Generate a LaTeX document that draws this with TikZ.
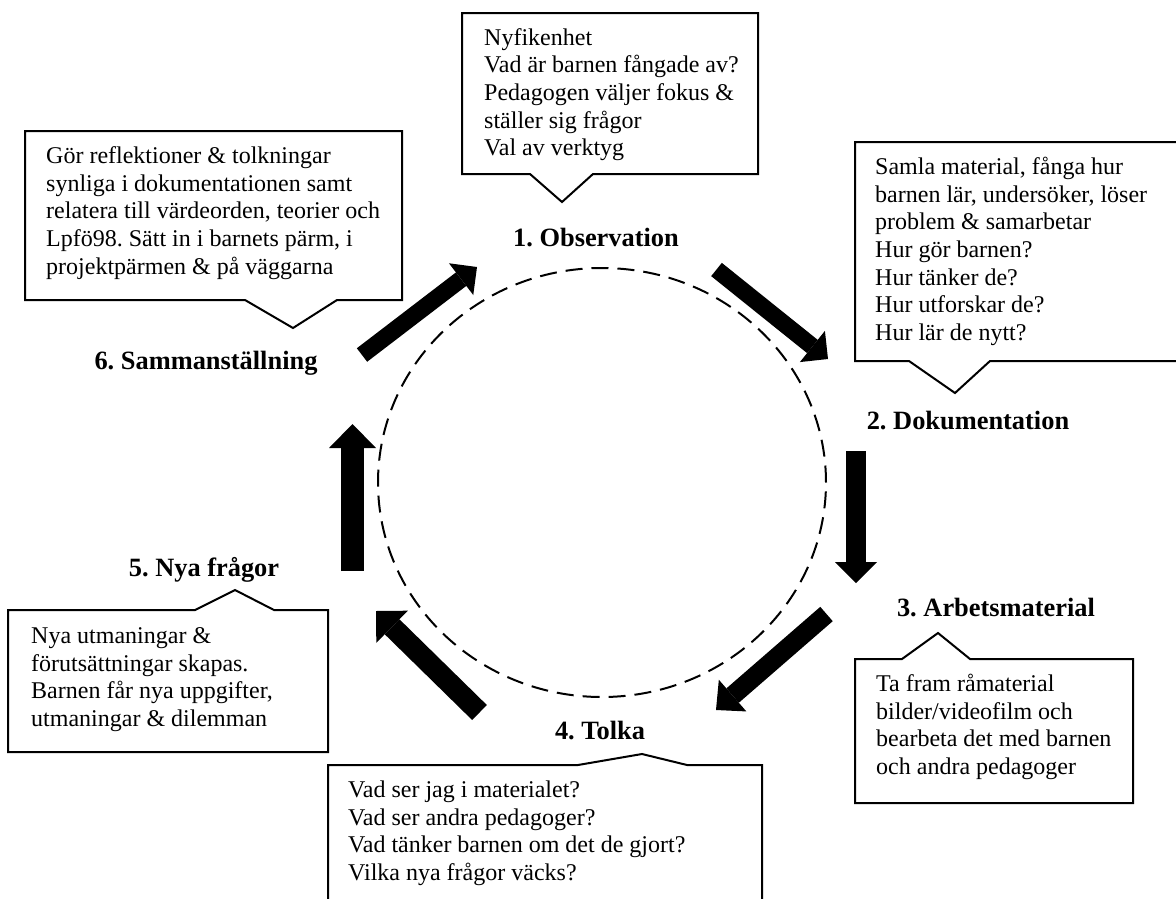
\documentclass[tikz,border=0pt]{standalone}
\usepackage{fontspec}
\setmainfont{Liberation Serif}
\usetikzlibrary{arrows.meta}
\frenchspacing
\tikzset{
  bodytext/.style={anchor=north west, inner sep=0pt, align=left, font=\fontsize{24}{27.6}\selectfont\frenchspacing},
  heading/.style={anchor=base, inner sep=0pt, font=\fontsize{26.4}{30}\selectfont\bfseries\frenchspacing},
  callout/.style={draw, line width=2pt, line join=miter, fill=white},
  cycle line/.style={line width=2pt, dash pattern=on 17pt off 9pt},
  blockarrow/.style n args={3}{line width=#1, -{Triangle[width=#2, length=#3, line width=0pt]}},
}
\begin{document}
\begin{tikzpicture}[x=1pt,y=-1pt]
\useasboundingbox (0,0) rectangle (1176,898);
\clip (0,0) rectangle (1176,898);
% dashed cycle
\coordinate (c) at (602,482.5);
\draw[cycle line] (c) ellipse [x radius=224pt, y radius=214.5pt];

% headings
\node[heading] (h1) at (596,246) {1. Observation};
\node[heading] (h2) at (968,429) {2. Dokumentation};
\node[heading] (h3) at (996,616) {3. Arbetsmaterial};
\node[heading] (h4) at (600,739) {4. Tolka};
\node[heading] (h5) at (204,576) {5. Nya frågor};
\node[heading] (h6) at (206,369) {6. Sammanställning};

% arrow end points
\coordinate (a61s) at (362,355);  \coordinate (a61e) at (477,267);
\coordinate (a12s) at (716.5,269.5); \coordinate (a12e) at (828,359);
\coordinate (a23s) at (856,451);  \coordinate (a23e) at (856,583);
\coordinate (a34s) at (826.5,614); \coordinate (a34e) at (716,710);
\coordinate (a45s) at (479.5,712.5); \coordinate (a45e) at (376,611);
\coordinate (a56s) at (352.5,571); \coordinate (a56e) at (352.5,424);

\draw[blockarrow={17pt}{40pt}{20pt}] (a61s) -- (a61e);
\draw[blockarrow={17pt}{40pt}{20pt}] (a12s) -- (a12e);
\draw[blockarrow={20pt}{42pt}{21pt}] (a23s) -- (a23e);
\draw[blockarrow={19pt}{42pt}{22pt}] (a34s) -- (a34e);
\draw[blockarrow={21pt}{45pt}{22.5pt}] (a45s) -- (a45e);
\draw[blockarrow={23pt}{47pt}{24pt}] (a56s) -- (a56e);

% callouts
\draw[callout] (462,13) -- (758,13) -- (758,174) -- (593,174) -- (562,202) -- (530,174) -- (462,174) -- cycle;
\draw[callout] (25,131) -- (402,131) -- (402,300) -- (337,300) -- (293,328) -- (245,300) -- (25,300) -- cycle;
\draw[callout] (855,142) -- (1185,142) -- (1185,361) -- (990,361) -- (955,393) -- (909,361) -- (855,361) -- cycle;
\draw[callout] (855,659) -- (902,659) -- (938,633) -- (970,659) -- (1133,659) -- (1133,803) -- (855,803) -- cycle;
\draw[callout] (328,765) -- (578,765) -- (642,754) -- (687,765) -- (762,765) -- (762,920) -- (328,920) -- cycle;
\draw[callout] (8,610) -- (195,610) -- (235,590) -- (274,610) -- (328,610) -- (328,752) -- (8,752) -- cycle;

% texts
\node[bodytext] (t1) at (484,25.7) {\strut Nyfikenhet\\Vad är barnen fångade av?\\Pedagogen väljer fokus \&\\ställer sig frågor\\Val av verktyg};
\node[bodytext] (t6) at (46,144.2) {\strut Gör reflektioner \& tolkningar\\synliga i dokumentationen samt\\relatera till värdeorden, teorier och\\Lpfö98. Sätt in i barnets pärm, i\\projektpärmen \& på väggarna};
\node[bodytext] (t2) at (875,155.2) {\strut Samla material, fånga hur\\barnen lär, undersöker, löser\\problem \& samarbetar\\Hur gör barnen?\\Hur tänker de?\\Hur utforskar de?\\Hur lär de nytt?};
\node[bodytext] (t3) at (876,672.2) {\strut Ta fram råmaterial\\bilder/videofilm och\\bearbeta det med barnen\\och andra pedagoger};
\node[bodytext] (t4) at (348,778.2) {\strut Vad ser jag i materialet?\\Vad ser andra pedagoger?\\Vad tänker barnen om det de gjort?\\Vilka nya frågor väcks?};
\node[bodytext] (t5) at (31,624.2) {\strut Nya utmaningar \&\\förutsättningar skapas.\\Barnen får nya uppgifter,\\utmaningar \& dilemman};
\end{tikzpicture}
\end{document}
